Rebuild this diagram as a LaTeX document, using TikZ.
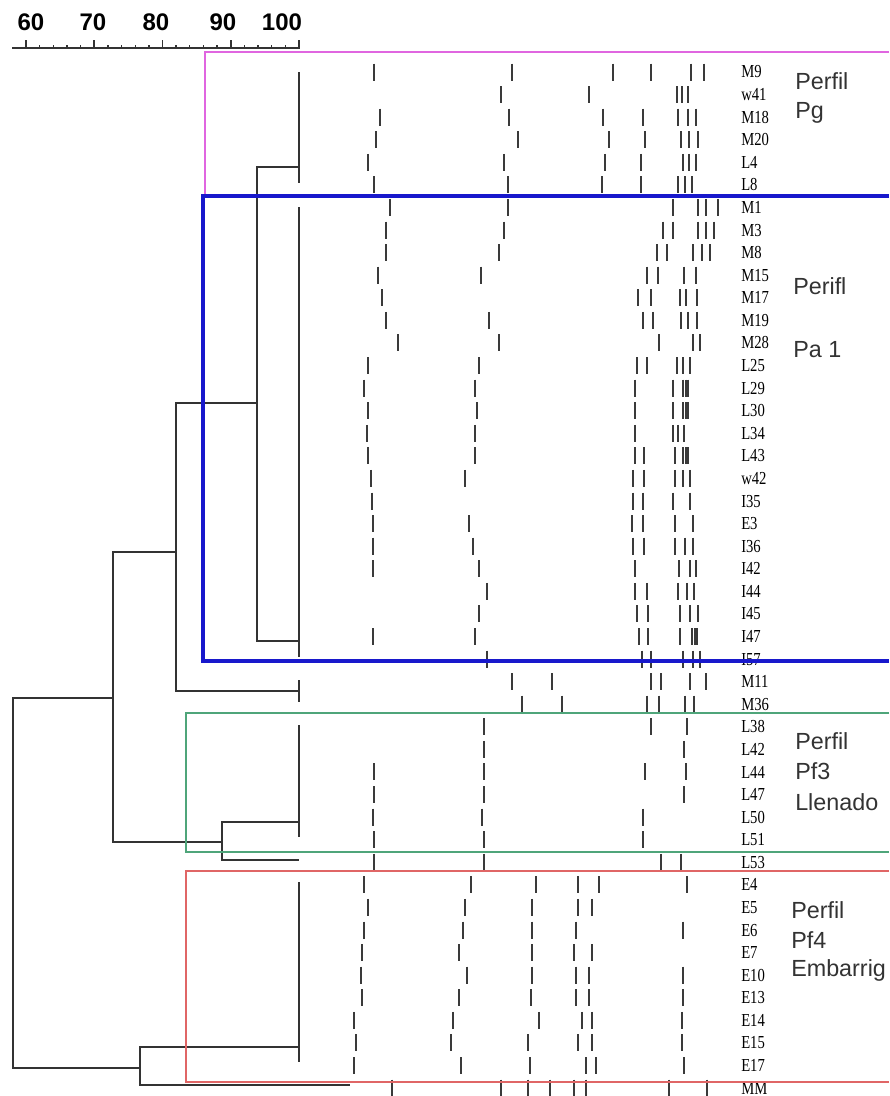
\documentclass[tikz,border=0pt]{standalone}
\usepackage{fontspec}
\setmainfont{Liberation Serif}
\newfontfamily\sansf{Liberation Sans}
\definecolor{dengray}{HTML}{333333}
\definecolor{bandgray}{HTML}{3A3A3A}
\definecolor{boxpink}{HTML}{E066E0}
\definecolor{boxblue}{HTML}{1818CC}
\definecolor{boxgreen}{HTML}{4FA57A}
\definecolor{boxred}{HTML}{E06666}
\begin{document}
\begin{tikzpicture}[x=0.75pt,y=-0.75pt,
  den/.style={draw=dengray,line width=1.5pt},
  bandmark/.style={draw=bandgray,line width=2pt},
  lab/.style={anchor=west,inner sep=0pt,font=\fontsize{11}{11}\selectfont,text=black},
  grp/.style={anchor=west,inner sep=0pt,font=\sansf\fontsize{17.5}{18}\selectfont,text=black!80},
  num/.style={inner sep=0pt,font=\sansf\bfseries\fontsize{18}{18}\selectfont}]
\useasboundingbox[fill=white] (0,0) rectangle (889,1096);
% scale axis
\draw[line width=1.4pt,dengray] (12,48) -- (300,48);
\foreach \k/\t/\cx in {0/60/31,1/70/93,2/80/156,3/90/223,4/100/282}{
  \draw[line width=1.3pt,dengray] ({26+68.25*\k},40) -- ({26+68.25*\k},48);
  \node[num] (n\t) at (\cx,22) {\t};
}
\foreach \k in {1,...,19}{
  \pgfmathsetmacro{\tx}{26+13.65*\k}
  \draw[line width=1pt,dengray] (\tx,45) -- (\tx,48);
}
% bands and labels
\foreach \i/\nm/\xs in {
 0/M9/{374,512,613,651,691,704},
 1/w41/{501,589,677,682,688},
 2/M18/{380,509,603,643,678,688,696},
 3/M20/{376,518,609,645,681,689,698},
 4/L4/{368,504,605,641,683,689,696},
 5/L8/{374,508,602,641,678,685,692},
 6/M1/{390,508,673,698,706,718},
 7/M3/{386,504,663,673,698,706,714},
 8/M8/{386,499,657,667,693,702,710},
 9/M15/{378,481,647,658,684,696},
 10/M17/{382,638,651,680,686,697},
 11/M19/{386,489,643,653,681,688,697},
 12/M28/{398,499,659,693,700},
 13/L25/{368,479,637,647,677,683,690},
 14/L29/{364,475,635,673,683,686,688},
 15/L30/{368,477,635,673,683,686,688},
 16/L34/{367,475,635,673,678,684},
 17/L43/{368,475,635,644,675,683,686,688},
 18/w42/{371,465,633,644,675,683,690},
 19/I35/{372,633,643,673,690},
 20/E3/{373,469,632,643,675,693},
 21/I36/{373,473,633,644,675,685,693},
 22/I42/{373,479,635,679,690,696},
 23/I44/{487,635,647,678,687,694},
 24/I45/{479,637,648,680,690,698},
 25/I47/{373,475,639,648,680,692,695,697},
 26/I57/{487,642,651,683,693,700},
 27/M11/{512,552,651,661,690,706},
 28/M36/{522,562,647,659,685,694},
 29/L38/{484,651,687},
 30/L42/{484,684},
 31/L44/{374,484,645,686},
 32/L47/{374,484,684},
 33/L50/{373,482,643},
 34/L51/{374,484,643},
 35/L53/{374,484,661,681},
 36/E4/{364,471,536,578,599,687},
 37/E5/{368,465,532,578,592},
 38/E6/{364,463,532,576,683},
 39/E7/{362,459,532,574,592},
 40/E10/{361,467,532,576,589,683},
 41/E13/{362,459,531,576,589,683},
 42/E14/{354,453,539,582,592,682},
 43/E15/{356,451,528,578,592,682},
 44/E17/{354,461,530,586,596,684},
 45/MM/{392,501,528,550,574,586,669,707}}{
  \pgfmathsetmacro{\ry}{72+\i*22.58}
  \foreach \x in \xs {\draw[bandmark] (\x,\ry-8.5) -- (\x,\ry+8.5);}
  \node[lab] (r\i) at (741,\ry) {\scalebox{1}[1.25]{\nm}};
}
% dendrogram
\draw[den] (299,72) -- (299,183);
\draw[den] (299,207) -- (299,657);
\draw[den] (299,167) -| (257,641) -- (299,641);
\draw[den] (257,403) -| (176,691) -- (299,691);
\draw[den] (299,680) -- (299,702);
\draw[den] (176,552) -| (113,842) -- (222,842);
\draw[den] (299,725) -- (299,837);
\draw[den] (299,822) -| (222,860) -- (299,860);
\draw[den] (113,698) -| (13,1068) -- (140,1068);
\draw[den] (299,882) -- (299,1062);
\draw[den] (299,1047) -| (140,1085) -- (350,1085);
% group boxes
\draw[boxpink,line width=2pt] (889,52) -- (205,52) -- (205,196);
\draw[boxblue,line width=2.3pt] (889,196) -- (203,196) -- (203,661) -- (889,661);
\draw[boxgreen,line width=1.1pt] (889,713) -- (186,713) -- (186,852) -- (889,852);
\draw[boxred,line width=1.8pt] (889,871) -- (186,871) -- (186,1082) -- (889,1082);
% group labels
\node[grp] (g1a) at (795,81) {Perfil};
\node[grp] (g1b) at (795,113) {Pg};
\node[grp] (g2a) at (793,286) {Perifl};
\node[grp] (g2b) at (793,350) {Pa 1};
\node[grp] (g3a) at (795,741) {Perfil};
\node[grp] (g3b) at (795,771) {Pf3};
\node[grp] (g3c) at (795,802) {Llenado};
\node[grp] (g4a) at (791,910) {Perfil};
\node[grp] (g4b) at (791,940) {Pf4};
\node[grp] (g4c) at (791,970) {Embarrig};
\end{tikzpicture}
\end{document}
